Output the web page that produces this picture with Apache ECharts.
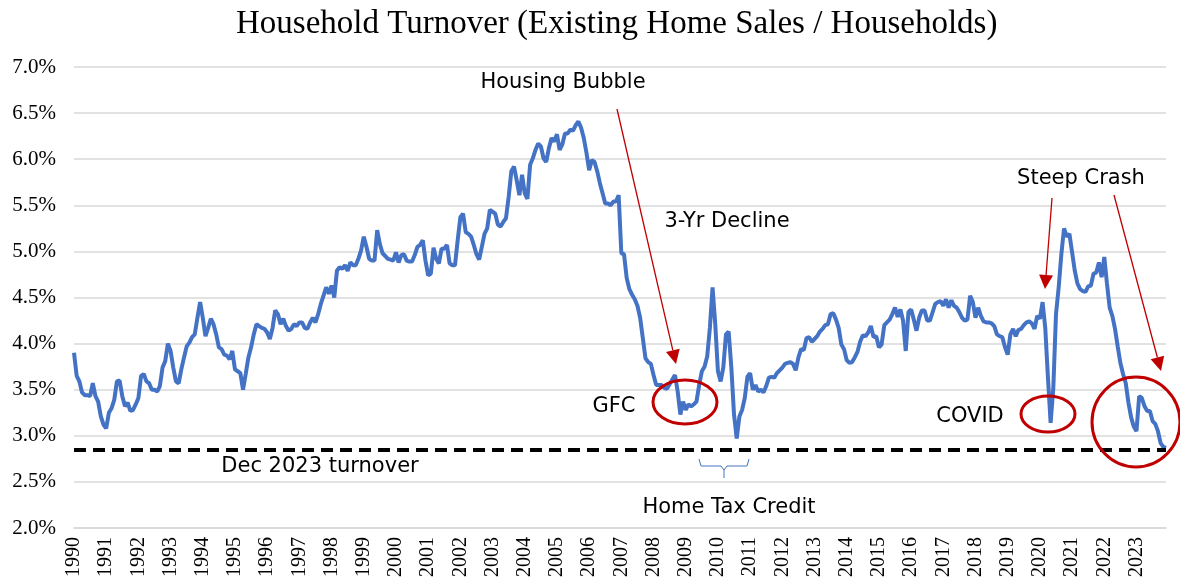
<!DOCTYPE html>
<html lang="en">
<head>
    <meta charset="UTF-8">
    <title>Household Turnover</title>
    <script type="text/javascript" src="https://cdn.jsdelivr.net/npm/echarts/dist/echarts.min.js"></script>
</head>
<body style="margin:0;background:#fff;">
<div id="main" style="width: 1180px; height: 581px;"></div>
<script type="text/javascript">
    // monthly turnover (% of households)
    var turnover1990s = [
        3.90,3.65,3.59,3.47,3.44,3.44,3.43,3.57,3.43,3.37,3.21,3.12,
        3.08,3.25,3.30,3.39,3.59,3.60,3.43,3.32,3.36,3.27,3.28,3.34,
        3.41,3.65,3.67,3.59,3.57,3.50,3.50,3.48,3.54,3.74,3.81,4.00,
        3.92,3.74,3.59,3.57,3.72,3.85,3.97,4.01,4.07,4.10,4.28,4.45,
        4.28,4.08,4.17,4.27,4.21,4.10,3.96,3.94,3.88,3.87,3.83,3.92,
        3.72,3.70,3.68,3.50,3.67,3.85,3.96,4.10,4.21,4.19,4.17,4.16,
        4.12,4.05,4.17,4.36,4.32,4.21,4.27,4.19,4.14,4.16,4.21,4.19,
        4.23,4.23,4.17,4.16,4.23,4.28,4.23,4.32,4.43,4.52,4.61,4.54,
        4.63,4.50,4.79,4.83,4.81,4.85,4.79,4.88,4.85,4.85,4.92,5.01,
        5.16,5.05,4.92,4.90,4.90,5.23,5.08,4.98,4.95,4.92,4.91,4.90
    ];
    var turnover2000s = [
        4.99,4.88,4.96,4.97,4.90,4.89,4.89,4.96,5.05,5.07,5.12,4.90,
        4.74,4.76,5.04,4.92,4.87,5.03,5.03,5.07,4.87,4.85,4.85,5.12,
        5.37,5.41,5.21,5.19,5.16,5.07,4.97,4.91,5.05,5.19,5.25,5.45,
        5.43,5.41,5.29,5.27,5.32,5.36,5.59,5.87,5.92,5.77,5.61,5.83,
        5.63,5.57,5.94,6.01,6.10,6.17,6.14,6.01,5.97,6.12,6.23,6.19,
        6.27,6.10,6.16,6.28,6.28,6.32,6.31,6.37,6.41,6.34,6.23,6.07,
        5.88,5.99,5.97,5.87,5.74,5.63,5.52,5.52,5.50,5.54,5.54,5.61,
        4.98,4.97,4.71,4.59,4.53,4.48,4.41,4.28,4.06,3.84,3.80,3.78,
        3.66,3.55,3.55,3.55,3.52,3.51,3.56,3.61,3.66,3.48,3.23,3.37,
        3.28,3.34,3.32,3.34,3.37,3.55,3.70,3.75,3.86,4.17,4.61,4.21
    ];
    var turnover2010s = [
        3.70,3.59,3.74,4.10,4.13,3.74,3.23,2.97,3.21,3.28,3.41,3.64,
        3.68,3.50,3.55,3.48,3.50,3.47,3.54,3.63,3.64,3.63,3.68,3.71,
        3.74,3.78,3.79,3.80,3.78,3.71,3.85,3.94,3.93,4.06,4.07,4.02,
        4.05,4.08,4.13,4.16,4.20,4.21,4.32,4.33,4.26,4.17,3.99,3.94,
        3.82,3.79,3.80,3.85,3.91,4.02,4.09,4.08,4.12,4.19,4.07,4.08,
        3.96,3.99,4.20,4.23,4.26,4.32,4.39,4.29,4.37,4.25,3.92,4.34,
        4.37,4.26,4.14,4.28,4.36,4.36,4.25,4.25,4.34,4.43,4.45,4.46,
        4.41,4.48,4.39,4.47,4.41,4.39,4.34,4.28,4.25,4.26,4.52,4.45,
        4.28,4.39,4.30,4.24,4.23,4.23,4.22,4.19,4.10,4.08,4.07,3.96,
        3.88,4.10,4.16,4.08,4.15,4.16,4.20,4.23,4.24,4.22,4.16,4.30
    ];
    var turnover2020s = [
        4.27,4.45,4.17,3.63,3.14,3.52,4.32,4.61,4.97,5.25,5.16,5.19,
        4.99,4.79,4.65,4.59,4.57,4.56,4.62,4.63,4.76,4.77,4.88,4.72,
        4.94,4.65,4.39,4.30,4.16,3.97,3.79,3.67,3.57,3.36,3.20,3.10,
        3.05,3.43,3.41,3.32,3.27,3.27,3.16,3.13,3.05,2.92,2.88,2.87
    ];
    var dec2023Turnover = 2.85;
    var firstYear = 1990;

    var turnover = turnover1990s.concat(turnover2000s, turnover2010s, turnover2020s);
    var months = [];
    for (var i = 0; i < turnover.length; i++) {
        var m = i % 12 + 1;
        months.push((firstYear + Math.floor(i / 12)) + '-' + (m < 10 ? '0' + m : m));
    }

    // red annotation arrow: thin line + filled head
    function arrow(x1, y1, x2, y2) {
        var a = Math.atan2(y2 - y1, x2 - x1);
        var len = 14, half = 7;
        var bx = x2 - len * Math.cos(a), by = y2 - len * Math.sin(a);
        var px = -Math.sin(a) * half, py = Math.cos(a) * half;
        return [
            {type: 'line', shape: {x1: x1, y1: y1, x2: bx, y2: by},
                style: {stroke: '#C00000', lineWidth: 1.3}, z: 20},
            {type: 'polygon', shape: {points: [[x2, y2], [bx + px, by + py], [bx - px, by - py]]},
                style: {fill: '#C00000'}, z: 20}
        ];
    }
    function note(text, x, y) {
        return {type: 'text', x: x, y: y, z: 20,
            style: {text: text, fill: '#000', fontSize: 21, fontFamily: 'DejaVu Sans',
                align: 'center', verticalAlign: 'middle'}};
    }
    function ring(cx, cy, rx, ry) {
        return {type: 'ellipse', shape: {cx: cx, cy: cy, rx: rx, ry: ry}, z: 20,
            style: {fill: 'none', stroke: '#C00000', lineWidth: 3}};
    }

    var graphics = [
        note('Housing Bubble', 563, 83),
        note('3-Yr Decline', 727, 222),
        note('Steep Crash', 1081, 179),
        note('GFC', 614, 407),
        note('COVID', 970, 417),
        note('Dec 2023 turnover', 320, 467),
        note('Home Tax Credit', 729, 508),
        ring(685, 402, 32, 22),
        ring(1048, 414, 27, 18),
        ring(1136, 422, 44, 45),
        {type: 'polyline', z: 20, shape: {points: [[699, 459], [701, 466], [721, 466], [724, 470], [724, 478]]},
            style: {stroke: '#4472C4', lineWidth: 1, fill: 'none'}},
        {type: 'polyline', z: 20, shape: {points: [[749, 459], [747, 466], [727, 466], [724, 470]]},
            style: {stroke: '#4472C4', lineWidth: 1, fill: 'none'}}
    ].concat(arrow(617, 109, 676, 364), arrow(1052, 198, 1045, 289), arrow(1114, 195, 1161, 371));

    var serif = 'Liberation Serif';

    var option = {
        animation: false,
        backgroundColor: '#fff',
        textStyle: {fontFamily: serif},
        title: {
            text: 'Household Turnover (Existing Home Sales / Households)',
            left: 231,
            top: 3,
            textStyle: {fontFamily: serif, fontSize: 33, fontWeight: 'normal', color: '#000'}
        },
        grid: {left: 74, right: 14, top: 67, bottom: 53},
        xAxis: {
            type: 'category',
            boundaryGap: false,
            data: months,
            axisLine: {lineStyle: {color: '#d9d9d9', width: 1.5}},
            axisTick: {show: false},
            axisLabel: {
                interval: 11,
                rotate: 90,
                margin: 9,
                fontFamily: serif,
                fontSize: 20,
                color: '#000',
                formatter: function (v) { return v.slice(0, 4); }
            }
        },
        yAxis: {
            type: 'value',
            min: 2,
            max: 7,
            interval: 0.5,
            axisLine: {show: false},
            axisTick: {show: false},
            splitLine: {lineStyle: {color: '#d9d9d9', width: 1.5}},
            axisLabel: {
                margin: 18,
                fontFamily: serif,
                fontSize: 21,
                color: '#000',
                formatter: function (v) { return v.toFixed(1) + '%'; }
            }
        },
        series: [{
            name: 'Turnover',
            type: 'line',
            data: turnover,
            showSymbol: false,
            lineStyle: {color: '#4472C4', width: 4},
            itemStyle: {color: '#4472C4'},
            markLine: {
                silent: true,
                symbol: ['none', 'none'],
                label: {show: false},
                lineStyle: {color: '#000', type: [12, 7], width: 4},
                data: [{yAxis: dec2023Turnover}]
            }
        }],
        graphic: graphics
    };

    var myChart = echarts.init(document.getElementById('main'));
    myChart.setOption(option);
</script>
</body>
</html>
